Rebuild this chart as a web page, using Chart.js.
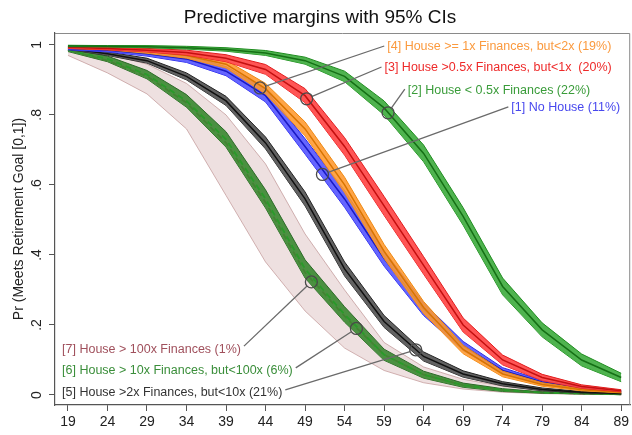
<!DOCTYPE html>
<html lang="en">
<head>
<meta charset="UTF-8">
<title>Predictive margins with 95% CIs</title>
<script src="https://cdn.jsdelivr.net/npm/chart.js"></script>
<style>
  body { margin: 0; background: #fff; }
  #wrap { width: 632px; height: 435px; }
</style>
</head>
<body>
<div id="wrap"><canvas id="margins" width="632" height="435"></canvas></div>
<script>
  // ages on the x axis (margins evaluated every 5 years)
  const ages = [19, 24, 29, 34, 39, 44, 49, 54, 59, 64, 69, 74, 79, 84, 89];
  const yTicks = [0, 0.2, 0.4, 0.6, 0.8, 1];
  const yTickLabels = ['0', '.2', '.4', '.6', '.8', '1'];

  // [1] No House
  const noHouseMid = [0.99, 0.985, 0.975, 0.96, 0.925, 0.855, 0.71, 0.56, 0.39, 0.245, 0.14, 0.07, 0.037, 0.02, 0.01];
  const noHouseLo  = [0.986, 0.98, 0.968, 0.95, 0.912, 0.837, 0.688, 0.536, 0.368, 0.227, 0.127, 0.062, 0.032, 0.017, 0.008];
  const noHouseHi  = [0.994, 0.99, 0.982, 0.97, 0.938, 0.873, 0.732, 0.584, 0.412, 0.263, 0.153, 0.078, 0.042, 0.023, 0.012];

  // [2] House < 0.5x Finances
  const under05Mid = [0.997, 0.996, 0.995, 0.992, 0.987, 0.977, 0.955, 0.91, 0.82, 0.69, 0.51, 0.31, 0.186, 0.1, 0.05];
  const under05Lo  = [0.995, 0.994, 0.992, 0.988, 0.982, 0.97, 0.945, 0.895, 0.8, 0.666, 0.485, 0.286, 0.166, 0.083, 0.038];
  const under05Hi  = [0.999, 0.998, 0.998, 0.996, 0.992, 0.984, 0.965, 0.925, 0.84, 0.714, 0.535, 0.334, 0.206, 0.117, 0.062];

  // [3] House >0.5x Finances, but<1x
  const half1Mid = [0.993, 0.99, 0.985, 0.978, 0.962, 0.93, 0.855, 0.71, 0.54, 0.37, 0.2, 0.1, 0.05, 0.024, 0.012];
  const half1Lo  = [0.99, 0.986, 0.98, 0.971, 0.952, 0.916, 0.835, 0.685, 0.513, 0.345, 0.18, 0.086, 0.041, 0.019, 0.009];
  const half1Hi  = [0.996, 0.994, 0.99, 0.985, 0.972, 0.944, 0.875, 0.735, 0.567, 0.395, 0.22, 0.114, 0.059, 0.029, 0.015];

  // [4] House >= 1x Finances, but<2x
  const one2Mid = [0.993, 0.99, 0.982, 0.97, 0.945, 0.875, 0.76, 0.6, 0.41, 0.25, 0.13, 0.06, 0.03, 0.015, 0.008];
  const one2Lo  = [0.99, 0.986, 0.976, 0.962, 0.934, 0.86, 0.74, 0.578, 0.39, 0.233, 0.118, 0.052, 0.025, 0.012, 0.006];
  const one2Hi  = [0.996, 0.994, 0.988, 0.978, 0.956, 0.89, 0.78, 0.622, 0.43, 0.267, 0.142, 0.068, 0.035, 0.018, 0.01];

  // [5] House >2x Finances, but<10x
  const two10Mid = [0.99, 0.975, 0.955, 0.91, 0.84, 0.72, 0.56, 0.36, 0.21, 0.11, 0.06, 0.032, 0.016, 0.008, 0.004];
  const two10Lo  = [0.987, 0.97, 0.948, 0.9, 0.827, 0.703, 0.54, 0.34, 0.193, 0.097, 0.051, 0.026, 0.012, 0.006, 0.003];
  const two10Hi  = [0.993, 0.98, 0.962, 0.92, 0.853, 0.737, 0.58, 0.38, 0.227, 0.123, 0.069, 0.038, 0.02, 0.01, 0.005];

  // [6] House > 10x Finances, but<100x
  const ten100Mid = [0.985, 0.96, 0.915, 0.84, 0.73, 0.56, 0.36, 0.23, 0.115, 0.058, 0.028, 0.014, 0.007, 0.004, 0.002];
  const ten100Lo  = [0.981, 0.952, 0.903, 0.822, 0.708, 0.534, 0.334, 0.208, 0.099, 0.048, 0.022, 0.01, 0.005, 0.003, 0.001];
  const ten100Hi  = [0.989, 0.968, 0.927, 0.858, 0.752, 0.586, 0.386, 0.252, 0.131, 0.068, 0.034, 0.018, 0.009, 0.005, 0.003];

  // [7] House > 100x Finances
  const over100Mid = [0.985, 0.955, 0.91, 0.835, 0.72, 0.55, 0.35, 0.225, 0.115, 0.058, 0.028, 0.014, 0.007, 0.004, 0.002];
  const over100Lo  = [0.97, 0.92, 0.86, 0.76, 0.57, 0.38, 0.24, 0.134, 0.07, 0.035, 0.017, 0.008, 0.004, 0.002, 0.001];
  const over100Hi  = [0.993, 0.975, 0.945, 0.89, 0.8, 0.66, 0.46, 0.3, 0.15, 0.08, 0.045, 0.025, 0.013, 0.007, 0.004];

  const FONT = "'Liberation Sans', Arial, sans-serif";

  // series in drawing order, bottom first
  const series = [
    { lo: over100Lo, hi: over100Hi, mid: over100Mid, fill: 'rgba(200,152,152,0.3)', edge: 'rgba(180,130,130,0.6)', line: '#7e3f2e', dash: [6, 4], dashOffset: 5 },
    { lo: ten100Lo, hi: ten100Hi, mid: ten100Mid, fill: 'rgba(62,138,52,0.92)', edge: '#2c6a28', line: '#2a9a2a', dash: [6, 4], dashOffset: 0 },
    { lo: two10Lo, hi: two10Hi, mid: two10Mid, fill: 'rgba(85,85,85,0.92)', edge: '#222', line: '#111' },
    { lo: noHouseLo, hi: noHouseHi, mid: noHouseMid, fill: 'rgba(80,80,255,0.88)', edge: '#2828e6', line: '#1a1ac4' },
    { lo: one2Lo, hi: one2Hi, mid: one2Mid, fill: 'rgba(255,152,45,0.88)', edge: '#ee8810', line: '#d87400' },
    { lo: half1Lo, hi: half1Hi, mid: half1Mid, fill: 'rgba(255,70,70,0.92)', edge: '#e01c1c', line: '#c41010' },
    { lo: under05Lo, hi: under05Hi, mid: under05Mid, fill: 'rgba(64,172,64,0.92)', edge: '#1f8c1f', line: '#157015' }
  ];

  const toPts = arr => ages.map((a, i) => ({ x: a, y: arr[i] }));

  const datasets = [];
  const total = series.length * 3;
  series.forEach(s => {
    const loIdx = datasets.length;
    datasets.push({ data: toPts(s.lo), borderColor: s.edge, borderWidth: 1, fill: false, order: total - datasets.length });
    datasets.push({ data: toPts(s.hi), borderColor: s.edge, borderWidth: 1, backgroundColor: s.fill, fill: { target: loIdx }, order: total - datasets.length });
    datasets.push({ data: toPts(s.mid), borderColor: s.line, borderWidth: s.dash ? 1.8 : 1.5, borderDash: s.dash || [], borderDashOffset: s.dashOffset || 0, fill: false, order: total - datasets.length });
  });

  // callout labels: marker sits on the curve, text placed in data coordinates
  const callouts = [
    { text: '[4] House >= 1x Finances, but<2x (19%)', color: '#fb9a3e', at: [43.3, 0.877], textAt: [59.4, 0.994], side: 'left' },
    { text: '[3] House >0.5x Finances, but<1x  (20%)', color: '#ee2a2a', at: [49.2, 0.846], textAt: [59.05, 0.934], side: 'left' },
    { text: '[2] House < 0.5x Finances (22%)', color: '#3a9c3a', at: [59.5, 0.806], textAt: [62.0, 0.871], side: 'left' },
    { text: '[1] No House (11%)', color: '#4848ee', at: [51.2, 0.63], textAt: [75.1, 0.82], side: 'left' },
    { text: '[7] House > 100x Finances (1%)', color: '#a0505c', at: [49.8, 0.323], textAt: [18.25, 0.131], side: 'right' },
    { text: '[6] House > 10x Finances, but<100x (6%)', color: '#3a8e3a', at: [55.5, 0.19], textAt: [18.25, 0.069], side: 'right' },
    { text: '[5] House >2x Finances, but<10x (21%)', color: '#333', at: [63.0, 0.129], textAt: [18.25, 0.006], side: 'right' }
  ];

  const decorPlugin = {
    id: 'decor',
    afterDraw(chart) {
      const { ctx, chartArea: ca, scales: { x, y } } = chart;
      ctx.save();

      // frame top/right
      ctx.strokeStyle = '#8a8a8a';
      ctx.lineWidth = 1;
      ctx.beginPath();
      ctx.moveTo(ca.left, ca.top + 0.5);
      ctx.lineTo(ca.right - 0.5, ca.top + 0.5);
      ctx.lineTo(ca.right - 0.5, ca.bottom);
      ctx.stroke();

      // title
      ctx.fillStyle = '#111';
      ctx.font = '19px ' + FONT;
      ctx.textAlign = 'center';
      ctx.textBaseline = 'middle';
      ctx.fillText('Predictive margins with 95% CIs', 320, 18);

      // rotated y tick labels
      ctx.font = '14px ' + FONT;
      ctx.fillStyle = '#222';
      yTicks.forEach((v, i) => {
        ctx.save();
        ctx.translate(37, y.getPixelForValue(v));
        ctx.rotate(-Math.PI / 2);
        ctx.fillText(yTickLabels[i], 0, 0);
        ctx.restore();
      });

      // y axis title
      ctx.save();
      ctx.translate(19, (ca.top + ca.bottom) / 2);
      ctx.rotate(-Math.PI / 2);
      ctx.font = '14px ' + FONT;
      ctx.fillText('Pr (Meets Retirement Goal [0,1])', 0, 0);
      ctx.restore();

      // callouts
      ctx.font = '12.5px ' + FONT;
      ctx.textAlign = 'left';
      callouts.forEach(c => {
        const mx = x.getPixelForValue(c.at[0]);
        const my = y.getPixelForValue(c.at[1]);
        const tx = x.getPixelForValue(c.textAt[0]);
        const ty = y.getPixelForValue(c.textAt[1]);
        const w = ctx.measureText(c.text).width;
        const ex = c.side === 'left' ? tx - 3 : tx + w + 3;
        const ey = c.side === 'left' ? ty - 1 : ty - 3;
        const d = Math.hypot(ex - mx, ey - my);
        const r = 6;
        ctx.strokeStyle = '#6a6a6a';
        ctx.lineWidth = 1.3;
        ctx.beginPath();
        ctx.moveTo(mx + (ex - mx) / d * r, my + (ey - my) / d * r);
        ctx.lineTo(ex, ey);
        ctx.stroke();
        ctx.strokeStyle = '#4a4a4a';
        ctx.beginPath();
        ctx.arc(mx, my, r, 0, Math.PI * 2);
        ctx.stroke();
        ctx.fillStyle = c.color;
        ctx.fillText(c.text, tx, ty);
      });

      ctx.restore();
    }
  };

  new Chart(document.getElementById('margins'), {
    type: 'line',
    data: { datasets },
    options: {
      responsive: false,
      animation: false,
      events: [],
      layout: { padding: { top: 33, right: 1, left: 0, bottom: 0 } },
      elements: { point: { radius: 0 }, line: { tension: 0 } },
      plugins: { legend: { display: false }, tooltip: { enabled: false } },
      scales: {
        x: {
          type: 'linear',
          min: 17.36,
          max: 90.14,
          afterBuildTicks: s => { s.ticks = ages.map(v => ({ value: v })); },
          afterFit: s => { s.height = 30; },
          grid: { drawOnChartArea: false, tickLength: 6, color: '#555', lineWidth: 1 },
          border: { color: '#555', width: 1.2 },
          ticks: { font: { size: 14, family: FONT }, color: '#222', padding: 3, maxRotation: 0, autoSkip: false }
        },
        y: {
          type: 'linear',
          min: -0.0286,
          max: 1.034,
          afterBuildTicks: s => { s.ticks = yTicks.map(v => ({ value: v })); },
          afterFit: s => { s.width = 55; },
          grid: { drawOnChartArea: false, tickLength: 6, color: '#555', lineWidth: 1 },
          border: { color: '#555', width: 1.2 },
          ticks: { display: false }
        }
      }
    },
    plugins: [decorPlugin]
  });
</script>
</body>
</html>
